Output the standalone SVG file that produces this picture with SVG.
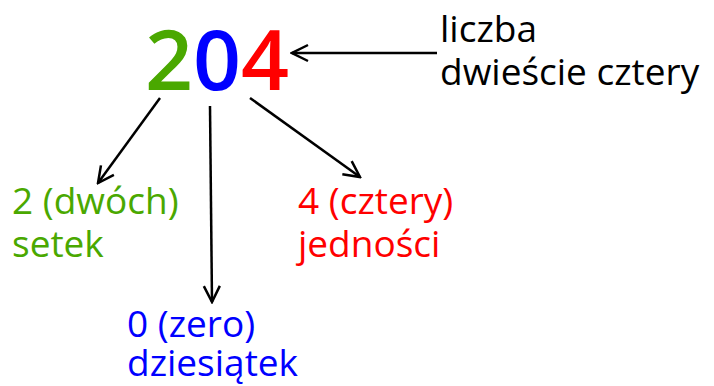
<svg xmlns="http://www.w3.org/2000/svg" width="714" height="386" viewBox="0 0 714 386">
<style>
text{font-family:"Comic Sans MS","Open Sans","Noto Sans",sans-serif}
.big{font-size:84px;font-weight:600}
.lbl{font-size:37px}
.c{stroke:#000;stroke-width:2.5;fill:none}
</style>
<defs>
<marker id="ah" viewBox="0 0 20 20" refX="18" refY="10" markerWidth="20" markerHeight="20" markerUnits="userSpaceOnUse" orient="auto">
<path d="M2,2 L18,10 L2,18" fill="none" stroke="#000" stroke-width="2.5"/>
</marker>
</defs>
<rect width="714" height="386" fill="#fff"/>
<g id="number">
<text class="big" x="145" y="90"><tspan fill="#4aa800">2</tspan><tspan fill="#0000ff">0</tspan><tspan fill="#ff0000">4</tspan></text>
</g>
<g id="caption">
<text class="lbl" x="440" y="42" fill="#000">liczba</text>
<text class="lbl" x="440" y="85" fill="#000">dwieście cztery</text>
</g>
<g id="hundreds">
<text class="lbl" x="12" y="214" fill="#4aa800">2 (dwóch)</text>
<text class="lbl" x="12" y="257" fill="#4aa800">setek</text>
</g>
<g id="tens">
<text class="lbl" x="127" y="337" fill="#0000ff">0 (zero)</text>
<text class="lbl" x="127" y="376" fill="#0000ff">dziesiątek</text>
</g>
<g id="units">
<text class="lbl" x="298" y="214" fill="#ff0000">4 (cztery)</text>
<text class="lbl" x="298" y="257" fill="#ff0000">jedności</text>
</g>
<g id="connectors">
<line class="c" x1="437" y1="53" x2="292" y2="53" marker-end="url(#ah)"/>
<line class="c" x1="160" y1="98" x2="98" y2="183" marker-end="url(#ah)"/>
<line class="c" x1="210" y1="106" x2="212" y2="302" marker-end="url(#ah)"/>
<line class="c" x1="250" y1="98" x2="360" y2="177" marker-end="url(#ah)"/>
</g>
</svg>
